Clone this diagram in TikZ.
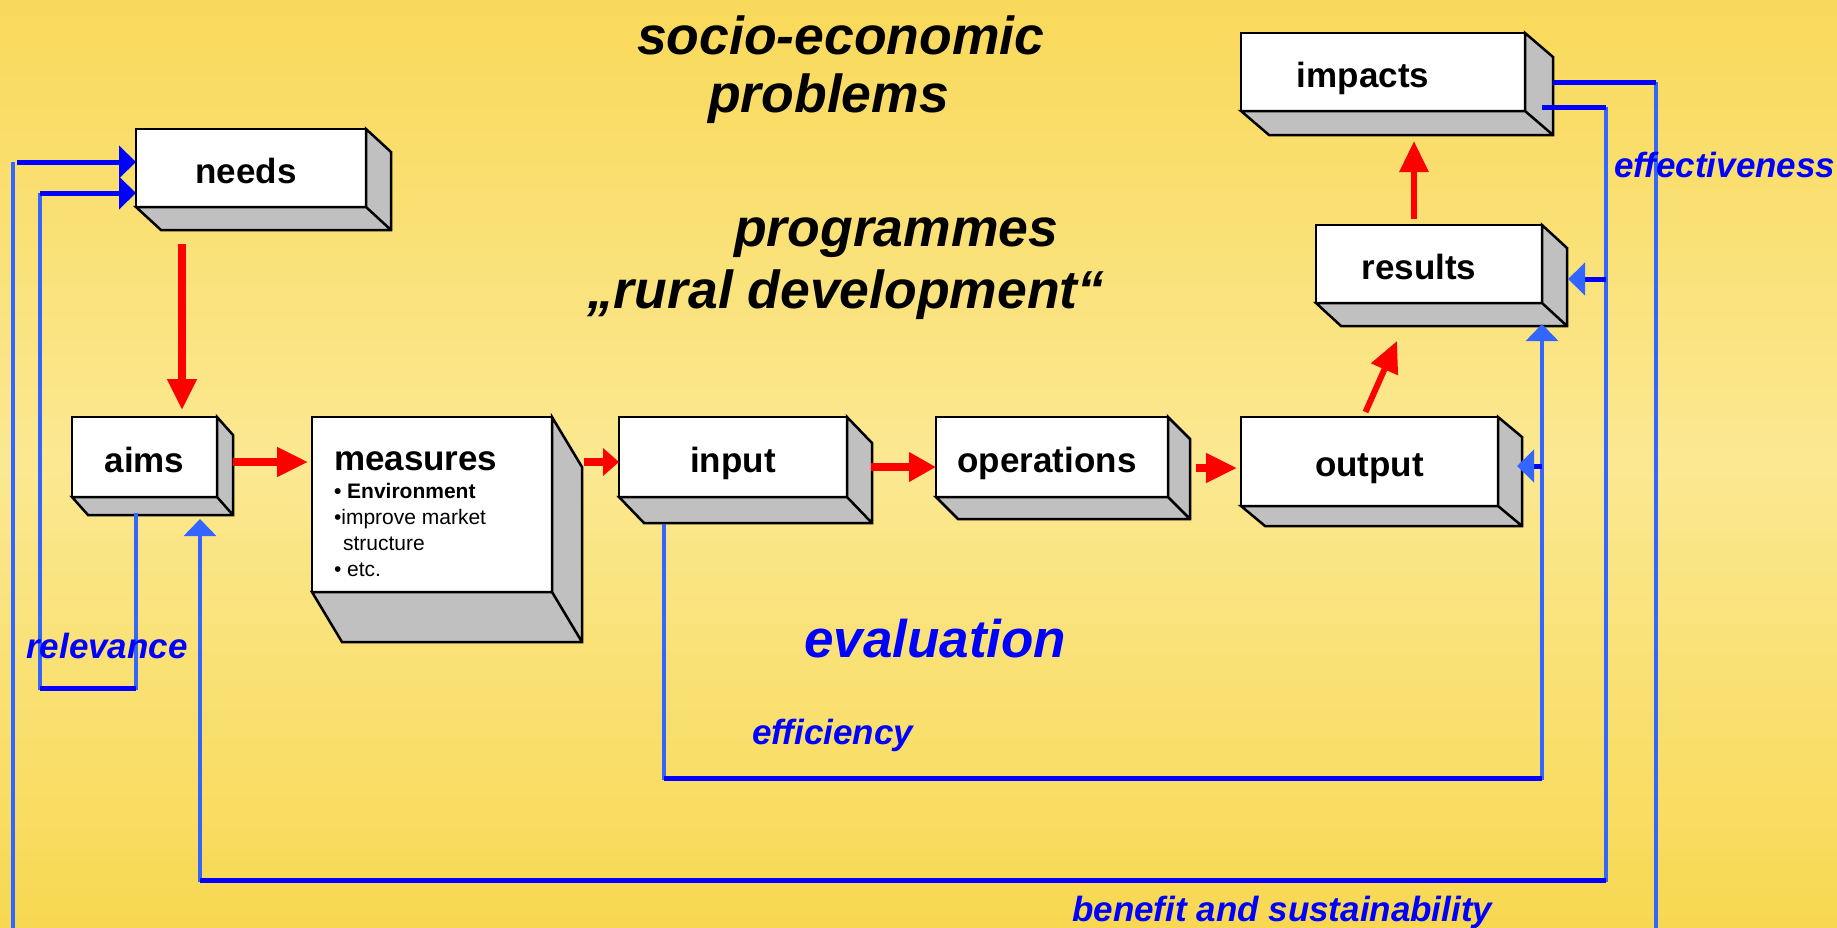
\documentclass[tikz,border=0pt]{standalone}
\usepackage{fontspec}
\setmainfont{Liberation Sans}
\usetikzlibrary{arrows.meta, calc}

\definecolor{bgtop}{HTML}{F9D95A}
\definecolor{bgmid}{HTML}{FBE891}
\definecolor{bgbot}{HTML}{F8D852}
\definecolor{loopblue}{HTML}{3366FF}
\definecolor{darkblue}{HTML}{0000FF}
\definecolor{sidegray}{HTML}{C0C0C0}

\tikzset{
  box/.style={draw=black, fill=white, line width=2.5pt, outer sep=0pt, inner sep=0pt,
    font=\fontsize{35}{40}\selectfont\bfseries},
  cube/.style={box, text height=30pt, text depth=0pt},
  side/.style={draw=black, fill=sidegray, line width=2.5pt},
  flow/.style={red, line width=7.5pt, -{Triangle[length=31pt,width=28pt]}},
  loop/.style={loopblue, line width=3.5pt},
  back/.style={darkblue, line width=5pt},
  tip/.style={-{Triangle[length=17pt,width=32pt]}},
  title/.style={anchor=base west, inner sep=0pt, font=\fontsize{53.5}{60}\selectfont\bfseries\itshape},
  crit/.style={anchor=base west, inner sep=0pt, darkblue, font=\fontsize{35}{40}\selectfont\bfseries\itshape}
}

\begin{document}
\begin{tikzpicture}[x=1pt, y=-1pt]
    \useasboundingbox (0,0) rectangle (1837,927);
    \clip (0,0) rectangle (1837,927);

    % Background
    \shade[top color=bgtop, bottom color=bgbot, middle color=bgmid] (0,0) rectangle (1837,927);

    % Headings
    \node[title] (socio) at (637,54) {socio-economic};
    \node[title] (problems) at (708,112) {problems};
    \node[title] (programmes) at (734,246) {programmes};
    \node[title] (rural) at (587,308) {„rural development“};
    \node[crit, font=\fontsize{53}{60}\selectfont\bfseries\itshape] (evaluation) at (804,657) {evaluation};

    % Boxes (front faces)
    \node[cube, minimum width=230pt, minimum height=78pt] (needs) at (251,168) {needs\hspace*{10pt}};
    \node[cube, minimum width=145pt, minimum height=80pt] (aims) at (144.5,457) {aims};
    \node[box, minimum width=240pt, minimum height=175pt] (measures) at (432,504.5)
        {\begin{minipage}{196pt}
         \vspace*{19pt}
         measures\par
         \vspace{2pt}
         \fontsize{21}{26}\selectfont • Environment\par
         \mdseries •improve market\par
         \hspace*{9pt}structure\par
         • etc.
         \end{minipage}};
    \node[cube, minimum width=228pt, minimum height=80pt] (input) at (733,457) {input};
    \node[cube, minimum width=232pt, minimum height=80pt] (operations) at (1052,457) {operations\hspace*{10pt}};
    \node[cube, minimum width=257pt, minimum height=89pt] (output) at (1369.5,461.5) {output};
    \node[cube, minimum width=226pt, minimum height=78pt] (results) at (1429,264) {results\hspace*{20pt}};
    \node[cube, minimum width=284pt, minimum height=78pt] (impacts) at (1383,72) {impacts\hspace*{40pt}};

    % Side and bottom faces
    \foreach \n/\dx/\dy in {needs/25/23, aims/16/18, measures/30/50, input/25/26,
                            operations/22/22, output/24/20, results/25/23, impacts/28/24} {
        \draw[side] (\n.north east) -- ++(\dx,\dy) -- ($(\n.south east)+(\dx,\dy)$)
            -- ($(\n.south west)+(\dx,\dy)$) -- (\n.south west) -- (\n.south east) -- cycle
            (\n.south east) -- ++(\dx,\dy);
    }

    % Red chain
    \draw[flow] ($(needs.south west)+(46,37)$) -- ($(aims.north east)+(-35,-7)$);
    \draw[flow] ($(aims.east)+(16,5)$) -- ($(measures.west |- aims.east)+(-4,5)$);
    \draw[flow, -{Triangle[length=16pt,width=27pt]}] ($(measures.north east)+(32,45)$) -- ($(input.west)+(0,5)$);
    \draw[flow, -{Triangle[length=27pt,width=28pt]}] ($(input.east)+(24,10)$) -- ($(operations.west)+(0,10)$);
    \draw[flow] ($(operations.east)+(28,11)$) -- ($(output.west |- operations.east)+(-4,11)$);
    \draw[flow, line width=6pt] ($(output.north)+(-4,-5)$) -- ($(results.south)+(-32,38)$);
    \draw[flow, line width=6pt] ($(results.north)+(-15,-6)$) -- ($(impacts.south)+(31,30)$);

    % relevance loop
    \draw[loop] ($(aims.south west)+(64,16)$) -- ++(0,175) -| ($(needs.west)+(-96,25)$);
    \draw[back] ($(aims.south west)+(64,191)$) -- ++(-96,0);
    \draw[back, tip] ($(needs.west)+(-96,25)$) -- ($(needs.west)+(0,25)$);

    % effectiveness loop
    \draw[loop] ($(impacts.east)+(131,10)$) |- ($(needs.west)+(-123,762)$) -- ($(needs.west)+(-123,-6)$);
    \draw[back] ($(impacts.east)+(28,10)$) -- ++(103,0);
    \draw[back, tip] ($(needs.west)+(-119,-6)$) -- ($(needs.west)+(0,-6)$);

    % benefit and sustainability loop
    \draw[loop, tip] ($(impacts.south east)+(81,-4)$) |- ($(aims.south east)+(-17,383)$) -- ($(aims.south east)+(-17,22)$);
    \draw[back] ($(impacts.south east)+(17,-4)$) -- ++(64,0);
    \draw[back] ($(aims.south east)+(-17,383)$) -- ++(1406,0);
    \draw[back, -{Triangle[length=17pt,width=32pt,color=loopblue]}] ($(results.east)+(64,15)$) -- ($(results.east)+(26,15)$);

    % efficiency loop
    \draw[loop, tip] ($(input.south west)+(45,27)$) |- ($(results.south east)+(0,475)$) -- ($(results.south east)+(0,21)$);
    \draw[back] ($(input.south west)+(45,281)$) -- ($(results.south east)+(0,475)$);
    \draw[back, -{Triangle[length=17pt,width=32pt,color=loopblue]}] ($(output.east)+(44,4.5)$) -- ($(output.east)+(19,4.5)$);

    % Criteria
    \node[crit] (relevance) at (26,658) {relevance};
    \node[crit] (effectiveness) at (1614,177) {effectiveness};
    \node[crit] (efficiency) at (752,744) {efficiency};
    \node[crit] (benefit) at (1072,921) {benefit and sustainability};
\end{tikzpicture}
\end{document}
